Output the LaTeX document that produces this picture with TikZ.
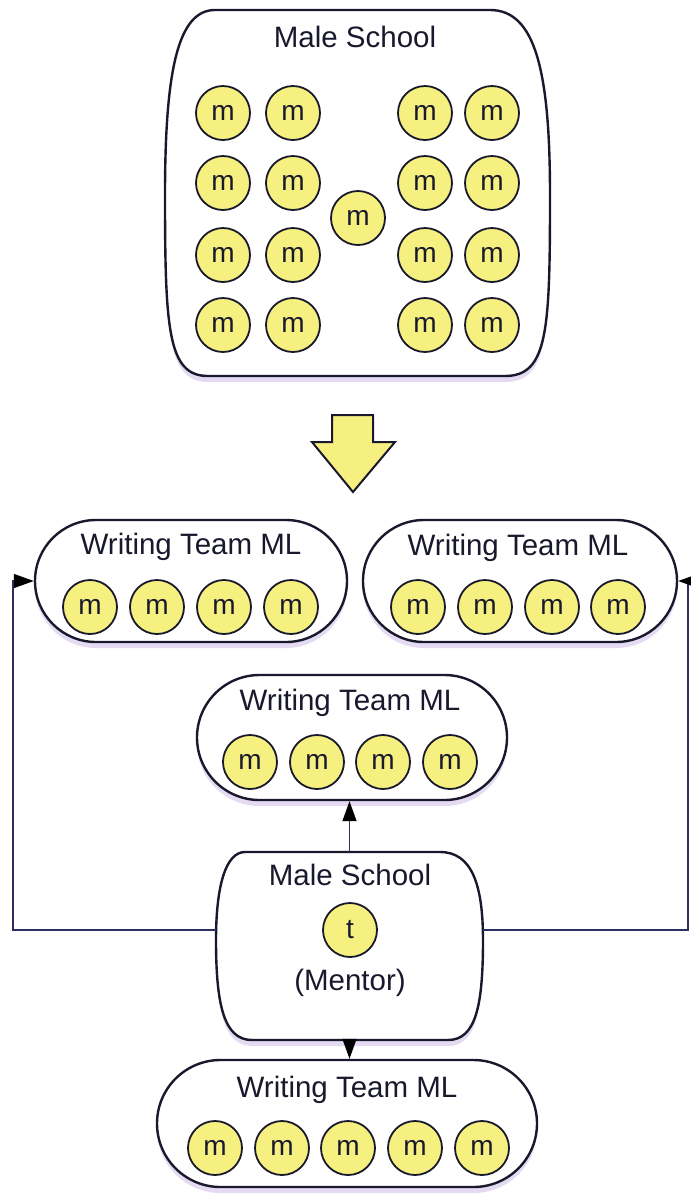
\documentclass[tikz,border=0pt]{standalone}
\usepackage{fontspec}
\setmainfont{Liberation Sans}
\usetikzlibrary{arrows.meta,shadows,shapes.misc}
\definecolor{pill}{RGB}{246,240,128}
\definecolor{ink}{RGB}{25,25,45}
\definecolor{wire}{RGB}{45,45,100}
\definecolor{haze}{RGB}{222,210,240}
\tikzset{
  haloshadow/.style={drop shadow={shadow xshift=0pt,shadow yshift=-6pt,fill=haze,opacity=0.8}},
  mem/.style={circle,draw=ink,line width=1.8pt,fill=pill,minimum size=54pt,inner sep=0pt,text=ink,
    font=\fontsize{28}{30}\selectfont},
  title/.style={font=\fontsize{29.5}{34}\selectfont,text=ink,inner sep=0pt,anchor=base},
  team/.style={rounded rectangle,draw=ink,line width=2.4pt,fill=white,inner sep=0pt,haloshadow},
  barrel/.style={draw=ink,line width=2.4pt,fill=white,haloshadow},
  holder/.style={rectangle,draw=none,inner sep=0pt},
  link/.style={draw=wire,line width=1.3pt,-{Triangle[length=20pt,width=14pt,color=black]}},
  blockarrow/.style={draw=ink,line width=2pt,fill=pill,line join=miter},
}
\begin{document}
\begin{tikzpicture}[x=1pt,y=-1pt]
\useasboundingbox[fill=white] (0,0) rectangle (691,1195);

% ---------- top school box ----------
\path[barrel] (215,10) -- (490,10) .. controls (535,10) and (550,70) .. (550,195)
  .. controls (550,330) and (548,376) .. (505,376) -- (208,376)
  .. controls (168,376) and (165,330) .. (165,195)
  .. controls (165,70) and (178,10) .. (215,10) -- cycle;
\node[holder,minimum width=385pt,minimum height=366pt] (school) at (357.5,193) {};
\node[title] (schooltitle) at (355,47) {Male School};
\foreach \r/\y in {1/113,2/183,3/255,4/325}{
  \node[mem] (s1\r) at (223,\y) {m};
  \node[mem] (s2\r) at (293,\y) {m};
  \node[mem] (s4\r) at (425,\y) {m};
  \node[mem] (s5\r) at (492,\y) {m};
}
\node[mem] (s33) at (358,218) {m};

% ---------- block arrow ----------
\path[blockarrow] (332,415) -- (373,415) -- (373,442) -- (395,442) -- (353,492)
  -- (312,442) -- (332,442) -- cycle;

% ---------- writing teams ----------
\node[team,minimum width=312pt,minimum height=122pt] (wl) at (191,581) {};
\node[title] (wltitle) at (191,554) {Writing Team ML};
\foreach \i/\x in {1/90,2/157,3/224,4/291}{\node[mem] (wl\i) at (\x,607) {m};}

\node[team,minimum width=314pt,minimum height=122pt] (wr) at (520,581) {};
\node[title] (wrtitle) at (518,555) {Writing Team ML};
\foreach \i/\x in {1/418,2/485,3/552,4/618}{\node[mem] (wr\i) at (\x,607) {m};}

\node[team,minimum width=310pt,minimum height=125pt] (wm) at (352,737.5) {};
\node[title] (wmtitle) at (350,710) {Writing Team ML};
\foreach \i/\x in {1/250,2/317,3/383,4/450}{\node[mem] (wm\i) at (\x,762) {m};}

\node[team,minimum width=380pt,minimum height=127pt] (wb) at (347,1123.5) {};
\node[title] (wbtitle) at (347,1097) {Writing Team ML};
\foreach \i/\x in {1/215,2/282,3/348,4/415,5/482}{\node[mem] (wb\i) at (\x,1148) {m};}

% ---------- mentor box ----------
\path[barrel] (245,852) -- (440,852) .. controls (472,852) and (483,885) .. (483,940)
  .. controls (483,1005) and (476,1040) .. (448,1040) -- (252,1040)
  .. controls (224,1040) and (216,1005) .. (216,940)
  .. controls (216,885) and (226,852) .. (245,852) -- cycle;
\node[holder,minimum width=267pt,minimum height=188pt] (mentor) at (349.5,946) {};
\node[title] (mentortitle) at (350,885) {Male School};
\node[mem] (t) at (350,930) {t};
\node[title] (mentorlabel) at (350,990) {(Mentor)};

% ---------- connectors ----------
\coordinate (lturn) at (13,930);
\coordinate (rturn) at (688,930);
\draw[link] (t -| mentor.west) -- (lturn) |- (wl.west);
\draw[link] (t -| mentor.east) -- (rturn) |- (wr.east);
\draw[link] (mentor.north) -- (mentor.north |- wm.south);
\draw[link] (mentor.south) -- (mentor.south |- wb.north);
\end{tikzpicture}
\end{document}
